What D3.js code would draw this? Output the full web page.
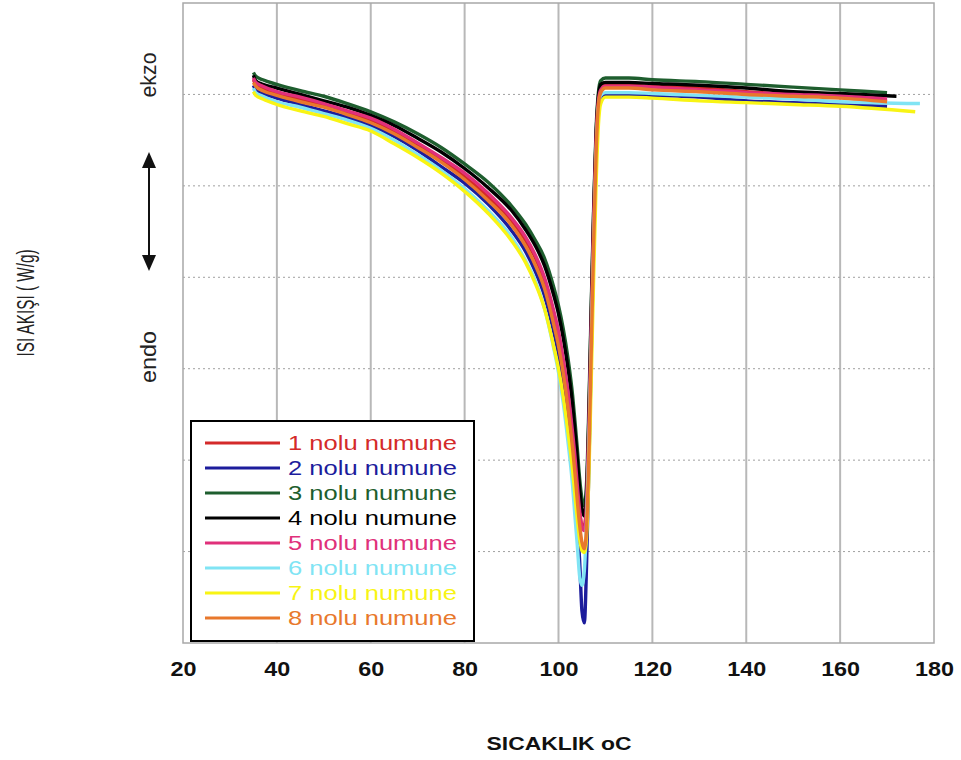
<!DOCTYPE html>
<html>
<head>
<meta charset="utf-8">
<script src="https://cdn.jsdelivr.net/npm/d3@7"></script>
<style>
  body { margin: 0; background: #fff; }
  svg text { font-family: Arial, "Liberation Sans", sans-serif; }
</style>
</head>
<body>
<svg id="chart" width="961" height="760"></svg>
<script>
// DSC curves, 8 samples. Heat flow (arbitrary W/g scale, exo up)
const tempGrid = [35, 35.5, 37, 40, 45, 50, 55, 60, 65, 70, 75, 80, 85, 90, 93, 95, 97, 99, 100, 101,
    102, 103, 103.5, 104, 104.5, 105, 105.5, 106, 106.5, 107, 107.5, 108, 108.5, 109, 110, 115, 120,
    130, 140, 150, 160];

// last temperature of each run (one extra point after the grid)
const endTemps = [170, 170, 170, 172, 170, 177, 176, 170];

const sampleNames = ['1 nolu numune', '2 nolu numune', '3 nolu numune', '4 nolu numune',
    '5 nolu numune', '6 nolu numune', '7 nolu numune', '8 nolu numune'];

const flux1 = [0.16, 0.11, 0.07, 0.01, -0.05, -0.12, -0.20, -0.28, -0.40, -0.55, -0.71, -0.90, -1.12,
    -1.38, -1.60, -1.78, -2.04, -2.42, -2.64, -2.93, -3.29, -3.73, -3.98, -4.27, -4.55, -4.71, -4.71,
    -4.44, -3.57, -2.47, -1.38, -0.50, -0.07, 0.07, 0.10, 0.10, 0.09, 0.07, 0.03, 0.00, -0.03, -0.07];
const flux2 = [0.10, 0.05, 0.01, -0.04, -0.11, -0.18, -0.25, -0.34, -0.46, -0.61, -0.79, -0.97, -1.20,
    -1.49, -1.72, -1.93, -2.20, -2.60, -2.84, -3.16, -3.55, -4.00, -4.28, -4.66, -5.10, -5.65, -5.78,
    -5.10, -4.00, -2.80, -1.65, -0.72, -0.18, -0.03, 0.00, 0.00, -0.01, -0.03, -0.07, -0.09, -0.11, -0.13];
const flux3 = [0.24, 0.20, 0.16, 0.11, 0.04, -0.02, -0.10, -0.19, -0.30, -0.43, -0.58, -0.76, -0.96,
    -1.22, -1.42, -1.59, -1.79, -2.11, -2.31, -2.56, -2.88, -3.29, -3.57, -3.87, -4.20, -4.42, -4.50,
    -4.23, -3.35, -2.25, -1.22, -0.39, 0.02, 0.15, 0.18, 0.18, 0.16, 0.14, 0.11, 0.08, 0.05, 0.02];
const flux4 = [0.21, 0.15, 0.11, 0.07, 0.00, -0.07, -0.14, -0.23, -0.34, -0.48, -0.63, -0.81, -1.02,
    -1.27, -1.48, -1.65, -1.87, -2.20, -2.40, -2.66, -2.99, -3.40, -3.68, -3.98, -4.31, -4.53, -4.61,
    -4.33, -3.46, -2.31, -1.27, -0.45, -0.02, 0.11, 0.13, 0.13, 0.12, 0.10, 0.07, 0.03, 0.01, -0.02];
const flux5 = [0.18, 0.13, 0.09, 0.03, -0.03, -0.10, -0.18, -0.26, -0.38, -0.53, -0.69, -0.86, -1.08,
    -1.35, -1.56, -1.75, -2.00, -2.37, -2.59, -2.89, -3.25, -3.70, -3.96, -4.27, -4.55, -4.74, -4.77,
    -4.44, -3.57, -2.45, -1.36, -0.50, -0.07, 0.05, 0.09, 0.09, 0.08, 0.05, 0.02, 0.00, -0.02, -0.05];
const flux6 = [0.07, 0.02, -0.02, -0.08, -0.14, -0.21, -0.28, -0.37, -0.50, -0.66, -0.83, -1.03, -1.27,
    -1.56, -1.82, -2.03, -2.34, -2.78, -3.04, -3.37, -3.79, -4.28, -4.61, -4.93, -5.27, -5.37, -5.21,
    -4.66, -3.79, -2.69, -1.60, -0.70, -0.15, -0.01, 0.02, 0.02, 0.01, -0.01, -0.03, -0.05, -0.08, -0.10];
const flux7 = [0.03, -0.01, -0.05, -0.11, -0.18, -0.24, -0.32, -0.40, -0.54, -0.69, -0.86, -1.06, -1.30,
    -1.60, -1.84, -2.06, -2.34, -2.76, -3.00, -3.30, -3.68, -4.11, -4.38, -4.64, -4.86, -4.99, -5.01,
    -4.82, -4.11, -3.07, -1.98, -1.00, -0.34, -0.10, -0.03, -0.03, -0.04, -0.07, -0.09, -0.11, -0.13, -0.19];
const flux8 = [0.13, 0.09, 0.04, -0.01, -0.08, -0.14, -0.22, -0.31, -0.43, -0.58, -0.74, -0.93, -1.16,
    -1.43, -1.66, -1.86, -2.12, -2.52, -2.75, -3.05, -3.42, -3.87, -4.14, -4.44, -4.71, -4.90, -4.97,
    -4.71, -3.89, -2.75, -1.60, -0.67, -0.12, 0.02, 0.07, 0.07, 0.05, 0.03, 0.00, -0.02, -0.04, -0.08];

const xTicks = [20, 40, 60, 80, 100, 120, 140, 160, 180];
const yGrid = [0, -1, -2, -3, -4, -5];

const fluxes = [flux1, flux2, flux3, flux4, flux5, flux6, flux7, flux8];
const colors = ['#d42a2a', '#1c1c9c', '#1e5e2e', '#000000', '#e0307a', '#80e4f4', '#f8f414', '#e8782c'];

const plot = {left: 183, right: 934, top: 3, bottom: 643};
const svg = d3.select('#chart');

const x = d3.scaleLinear().domain([20, 180]).range([plot.left, plot.right]);
const y = d3.scaleLinear().domain([-6, 1]).range([plot.bottom, plot.top]);

// grid
svg.append('g')
    .selectAll('line')
    .data(xTicks.slice(1, -1))
    .enter()
    .append('line')
    .attr('x1', d => x(d)).attr('x2', d => x(d))
    .attr('y1', plot.top).attr('y2', plot.bottom)
    .attr('stroke', '#b8b8b8')
    .attr('stroke-width', 2);

svg.append('g')
    .selectAll('line')
    .data(yGrid)
    .enter()
    .append('line')
    .attr('x1', plot.left).attr('x2', plot.right)
    .attr('y1', d => y(d)).attr('y2', d => y(d))
    .attr('stroke', '#a0a0a0')
    .attr('stroke-width', 1)
    .attr('stroke-dasharray', '2,3');

svg.append('rect')
    .attr('x', plot.left).attr('y', plot.top)
    .attr('width', plot.right - plot.left)
    .attr('height', plot.bottom - plot.top)
    .attr('fill', 'none')
    .attr('stroke', '#a8a8a8')
    .attr('stroke-width', 1.5);

// x axis labels
let xAxis = svg.append('g')
    .attr('transform', 'translate(0,' + plot.bottom + ')')
    .call(d3.axisBottom(x).tickValues(xTicks).tickSize(0));
xAxis.select('.domain').remove();
xAxis.selectAll('text')
    .attr('y', 33)
    .attr('dy', 0)
    .attr('fill', '#111')
    .style('font-size', '20px')
    .style('font-weight', 'bold')
    .attr('textLength', d => String(d).length * 13)
    .attr('lengthAdjust', 'spacingAndGlyphs');

// curves
let line = d3.line()
    .x(d => x(d[0]))
    .y(d => y(d[1]))
    .curve(d3.curveMonotoneX);

fluxes.forEach(function (f, i) {
    let temps = tempGrid.concat([endTemps[i]]);
    let pts = temps.map((t, j) => [t, f[j]]);
    svg.append('path')
        .datum(pts)
        .attr('d', line)
        .attr('fill', 'none')
        .attr('stroke', colors[i])
        .attr('stroke-width', 3.4)
        .attr('stroke-linejoin', 'round');
});

// legend
let legend = svg.append('g');
legend.append('rect')
    .attr('x', 191).attr('y', 421)
    .attr('width', 283).attr('height', 220)
    .attr('fill', '#fff')
    .attr('stroke', '#000')
    .attr('stroke-width', 2);

let rows = legend.selectAll('g.row')
    .data(sampleNames)
    .enter()
    .append('g')
    .attr('class', 'row')
    .attr('transform', (d, i) => 'translate(0,' + (443 + i * 25) + ')');
rows.append('line')
    .attr('x1', 205).attr('x2', 280)
    .attr('stroke', (d, i) => colors[i])
    .attr('stroke-width', 3);
rows.append('text')
    .attr('x', 288).attr('y', 7)
    .attr('fill', (d, i) => colors[i])
    .style('font-size', '21px')
    .attr('textLength', 169)
    .attr('lengthAdjust', 'spacingAndGlyphs')
    .text(d => d);

// axis titles
svg.append('text')
    .attr('transform', 'translate(34,303) rotate(-90)')
    .attr('text-anchor', 'middle')
    .attr('fill', '#222')
    .style('font-size', '23px')
    .attr('textLength', 107)
    .attr('lengthAdjust', 'spacingAndGlyphs')
    .text('ISI AKIŞI ( W/g)');

svg.append('text')
    .attr('transform', 'translate(156,75) rotate(-90)')
    .attr('text-anchor', 'middle')
    .attr('fill', '#222')
    .style('font-size', '22px')
    .attr('textLength', 45)
    .attr('lengthAdjust', 'spacingAndGlyphs')
    .text('ekzo');

svg.append('text')
    .attr('transform', 'translate(156,357) rotate(-90)')
    .attr('text-anchor', 'middle')
    .attr('fill', '#222')
    .style('font-size', '22px')
    .attr('textLength', 52)
    .attr('lengthAdjust', 'spacingAndGlyphs')
    .text('endo');

svg.append('text')
    .attr('x', 559).attr('y', 750)
    .attr('text-anchor', 'middle')
    .attr('fill', '#111')
    .style('font-size', '18px')
    .style('font-weight', 'bold')
    .attr('textLength', 145)
    .attr('lengthAdjust', 'spacingAndGlyphs')
    .text('SICAKLIK oC');

// exo / endo arrow
svg.append('line')
    .attr('x1', 149).attr('x2', 149)
    .attr('y1', 165).attr('y2', 257)
    .attr('stroke', '#111')
    .attr('stroke-width', 2);
svg.append('path')
    .attr('d', 'M149,152 L142,168 L156,168 Z M149,271 L142,255 L156,255 Z')
    .attr('fill', '#111');
</script>
</body>
</html>
